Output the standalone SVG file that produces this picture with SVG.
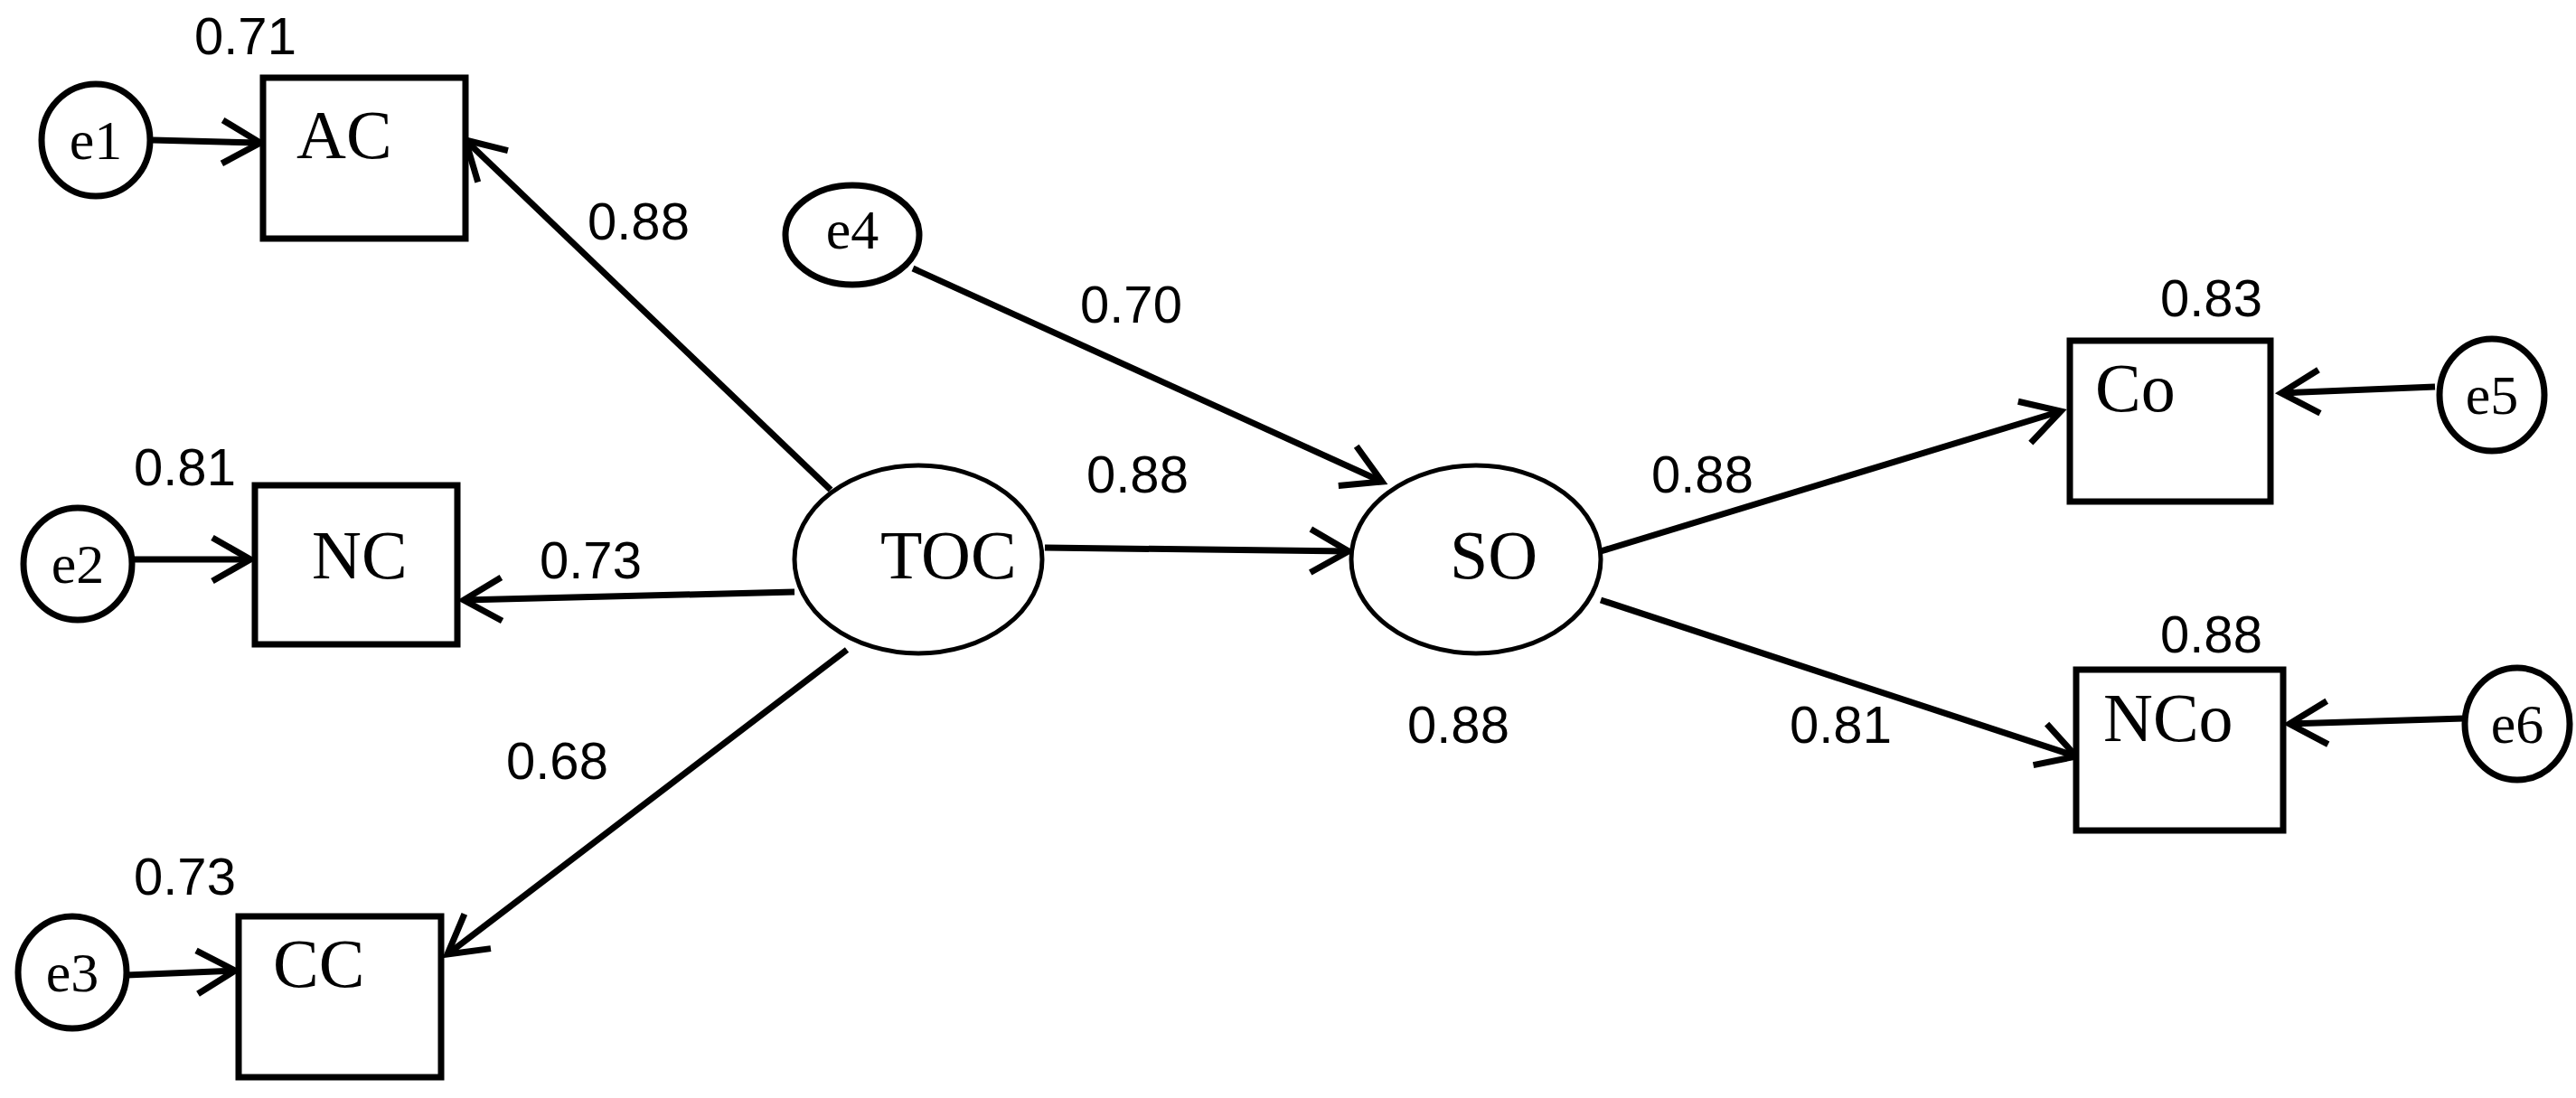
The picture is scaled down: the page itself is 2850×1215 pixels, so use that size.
<svg xmlns="http://www.w3.org/2000/svg" width="2850" height="1215" viewBox="0 0 2850 1215">
<style>
.n{fill:#fff;stroke:#000;stroke-width:7}
.o{fill:#fff;stroke:#000;stroke-width:5}
.c{stroke:#000;stroke-width:7;fill:none;marker-end:url(#a)}
text{font-family:"Liberation Serif","Times New Roman",serif;fill:#000}
.l{font-size:76px}
.e{font-size:62px;text-anchor:middle}
.v{font-size:58px;font-family:"Liberation Sans",Arial,sans-serif}
</style>
<defs>
<marker id="a" markerUnits="userSpaceOnUse" markerWidth="60" markerHeight="60" viewBox="-50 -30 60 60" refX="0" refY="0" orient="auto">
<path d="M-42,-24 L0,0 L-42,24" fill="none" stroke="#000" stroke-width="7"/>
</marker>
</defs>
<g id="connectors">
<line class="c" x1="169" y1="155" x2="288" y2="158"/>
<line class="c" x1="146" y1="619" x2="277" y2="619"/>
<line class="c" x1="140" y1="1079" x2="260" y2="1074"/>
<line class="c" x1="919" y1="542" x2="515" y2="155"/>
<line class="c" x1="879" y1="655" x2="513" y2="664"/>
<line class="c" x1="937" y1="719" x2="495" y2="1056"/>
<line class="c" x1="1010" y1="297" x2="1529" y2="533"/>
<line class="c" x1="1156" y1="606" x2="1492" y2="610"/>
<line class="c" x1="1771" y1="610" x2="2280" y2="455"/>
<line class="c" x1="1771" y1="664" x2="2297" y2="837"/>
<line class="c" x1="2694" y1="428" x2="2524" y2="435"/>
<line class="c" x1="2726" y1="795" x2="2533" y2="801"/>
</g>
<g id="e1"><ellipse class="n" cx="106" cy="155" rx="60" ry="62"/><text class="e" x="106" y="176">e1</text></g>
<g id="e2"><ellipse class="n" cx="86" cy="624" rx="60" ry="62"/><text class="e" x="86" y="645">e2</text></g>
<g id="e3"><ellipse class="n" cx="80" cy="1076" rx="60" ry="62"/><text class="e" x="80" y="1097">e3</text></g>
<g id="e4"><ellipse class="n" cx="943" cy="260" rx="74" ry="55"/><text class="e" x="943" y="275">e4</text></g>
<g id="e5"><ellipse class="n" cx="2757" cy="437" rx="58" ry="62"/><text class="e" x="2757" y="458">e5</text></g>
<g id="e6"><ellipse class="n" cx="2785" cy="801" rx="58" ry="62"/><text class="e" x="2785" y="822">e6</text></g>
<g id="AC"><rect class="n" x="291" y="86" width="224" height="178"/><text class="l" x="328" y="175">AC</text><text class="v" x="215" y="60">0.71</text></g>
<g id="NC"><rect class="n" x="282" y="537" width="224" height="176"/><text class="l" x="345" y="640">NC</text><text class="v" x="148" y="537">0.81</text></g>
<g id="CC"><rect class="n" x="264" y="1014" width="224" height="178"/><text class="l" x="302" y="1092">CC</text><text class="v" x="148" y="990">0.73</text></g>
<g id="TOC"><ellipse class="o" cx="1016" cy="619" rx="137" ry="104"/><text class="l" x="974" y="640">TOC</text></g>
<g id="SO"><ellipse class="o" cx="1633" cy="619" rx="138" ry="104"/><text class="l" x="1604" y="640">SO</text></g>
<g id="Co"><rect class="n" x="2290" y="377" width="222" height="178"/><text class="l" x="2318" y="455">Co</text><text class="v" x="2390" y="350">0.83</text></g>
<g id="NCo"><rect class="n" x="2297" y="741" width="229" height="178"/><text class="l" x="2327" y="820">NCo</text><text class="v" x="2390" y="722">0.88</text></g>
<g id="labels">
<text class="v" x="650" y="265">0.88</text>
<text class="v" x="597" y="640">0.73</text>
<text class="v" x="560" y="862">0.68</text>
<text class="v" x="1195" y="357">0.70</text>
<text class="v" x="1202" y="545">0.88</text>
<text class="v" x="1827" y="545">0.88</text>
<text class="v" x="1557" y="822">0.88</text>
<text class="v" x="1980" y="822">0.81</text>
</g>
</svg>
